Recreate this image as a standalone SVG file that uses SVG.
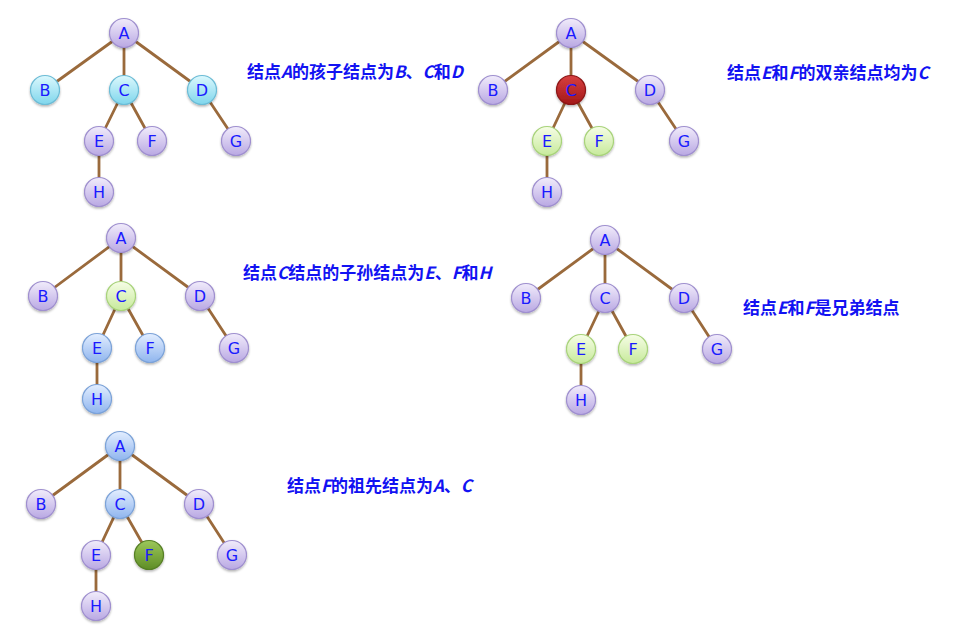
<svg xmlns="http://www.w3.org/2000/svg" width="958" height="644" viewBox="0 0 958 644">
<defs>
<linearGradient id="gP" x1="0" y1="0" x2="0" y2="1"><stop offset="0" stop-color="#f1ecfb"/><stop offset="1" stop-color="#b9a8e3"/></linearGradient>
<linearGradient id="gC" x1="0" y1="0" x2="0" y2="1"><stop offset="0" stop-color="#dcf8fd"/><stop offset="1" stop-color="#7fd6ec"/></linearGradient>
<linearGradient id="gL" x1="0" y1="0" x2="0" y2="1"><stop offset="0" stop-color="#f6fde6"/><stop offset="1" stop-color="#c7ea9b"/></linearGradient>
<linearGradient id="gB" x1="0" y1="0" x2="0" y2="1"><stop offset="0" stop-color="#e3eeff"/><stop offset="1" stop-color="#8fb5ee"/></linearGradient>
<linearGradient id="gR" x1="0" y1="0" x2="0" y2="1"><stop offset="0" stop-color="#d84040"/><stop offset="1" stop-color="#a21818"/></linearGradient>
<linearGradient id="gG" x1="0" y1="0" x2="0" y2="1"><stop offset="0" stop-color="#9cc75a"/><stop offset="1" stop-color="#5e8d26"/></linearGradient>
<filter id="sh" x="-30%" y="-30%" width="160%" height="170%"><feDropShadow dx="0" dy="1.5" stdDeviation="1.2" flood-color="#000" flood-opacity="0.3"/></filter>
</defs>
<style>
.e{stroke:#9a6a3c;stroke-width:2.8;fill:none;stroke-linecap:round}
circle{stroke-width:1.2;filter:url(#sh)}
.p{fill:url(#gP);stroke:#9f8fcf}
.c{fill:url(#gC);stroke:#6cbcd6}
.l{fill:url(#gL);stroke:#a8d37a}
.b{fill:url(#gB);stroke:#7ba2d8}
.r{fill:url(#gR);stroke:#8c1616}
.g{fill:url(#gG);stroke:#567f25}
.t{font-family:"DejaVu Sans","Liberation Sans",sans-serif;font-size:16px;fill:#1a1aff;text-anchor:middle}
.cap{font-family:"Noto Sans CJK SC","Liberation Sans",sans-serif;font-size:17px;font-weight:bold;fill:#1212f2}
.i{font-style:italic}
</style>
<g id="connectors">
<path class="e" d="M124 33L45 90M124 33L124 90M124 33L202 90M124 90L99 141M124 90L152 141M202 90L236 141M99 141L99 192"/>
<path class="e" d="M571 33L493 90M571 33L571 90M571 33L650 90M571 90L547 141M571 90L599 141M650 90L684 141M547 141L547 192"/>
<path class="e" d="M121 238L43 296M121 238L121 296M121 238L200 296M121 296L97 348M121 296L150 348M200 296L234 348M97 348L97 399"/>
<path class="e" d="M605 240L526 298M605 240L605 298M605 240L684 298M605 298L581 349M605 298L633 349M684 298L717 349M581 349L581 400"/>
<path class="e" d="M120 446L41 504M120 446L120 504M120 446L199 504M120 504L96 555M120 504L149 555M199 504L232 555M96 555L96 606"/>
</g>
<g id="t1-A"><circle class="p" cx="124" cy="33" r="14.5"/><text class="t" x="124" y="38.5">A</text></g>
<g id="t1-B"><circle class="c" cx="45" cy="90" r="14.5"/><text class="t" x="45" y="95.5">B</text></g>
<g id="t1-C"><circle class="c" cx="124" cy="90" r="14.5"/><text class="t" x="124" y="95.5">C</text></g>
<g id="t1-D"><circle class="c" cx="202" cy="90" r="14.5"/><text class="t" x="202" y="95.5">D</text></g>
<g id="t1-E"><circle class="p" cx="99" cy="141" r="14.5"/><text class="t" x="99" y="146.5">E</text></g>
<g id="t1-F"><circle class="p" cx="152" cy="141" r="14.5"/><text class="t" x="152" y="146.5">F</text></g>
<g id="t1-G"><circle class="p" cx="236" cy="141" r="14.5"/><text class="t" x="236" y="146.5">G</text></g>
<g id="t1-H"><circle class="p" cx="99" cy="192" r="14.5"/><text class="t" x="99" y="197.5">H</text></g>

<g id="t2-A"><circle class="p" cx="571" cy="33" r="14.5"/><text class="t" x="571" y="38.5">A</text></g>
<g id="t2-B"><circle class="p" cx="493" cy="90" r="14.5"/><text class="t" x="493" y="95.5">B</text></g>
<g id="t2-C"><circle class="r" cx="571" cy="90" r="14.5"/><text class="t" x="571" y="95.5">C</text></g>
<g id="t2-D"><circle class="p" cx="650" cy="90" r="14.5"/><text class="t" x="650" y="95.5">D</text></g>
<g id="t2-E"><circle class="l" cx="547" cy="141" r="14.5"/><text class="t" x="547" y="146.5">E</text></g>
<g id="t2-F"><circle class="l" cx="599" cy="141" r="14.5"/><text class="t" x="599" y="146.5">F</text></g>
<g id="t2-G"><circle class="p" cx="684" cy="141" r="14.5"/><text class="t" x="684" y="146.5">G</text></g>
<g id="t2-H"><circle class="p" cx="547" cy="192" r="14.5"/><text class="t" x="547" y="197.5">H</text></g>

<g id="t3-A"><circle class="p" cx="121" cy="238" r="14.5"/><text class="t" x="121" y="243.5">A</text></g>
<g id="t3-B"><circle class="p" cx="43" cy="296" r="14.5"/><text class="t" x="43" y="301.5">B</text></g>
<g id="t3-C"><circle class="l" cx="121" cy="296" r="14.5"/><text class="t" x="121" y="301.5">C</text></g>
<g id="t3-D"><circle class="p" cx="200" cy="296" r="14.5"/><text class="t" x="200" y="301.5">D</text></g>
<g id="t3-E"><circle class="b" cx="97" cy="348" r="14.5"/><text class="t" x="97" y="353.5">E</text></g>
<g id="t3-F"><circle class="b" cx="150" cy="348" r="14.5"/><text class="t" x="150" y="353.5">F</text></g>
<g id="t3-G"><circle class="p" cx="234" cy="348" r="14.5"/><text class="t" x="234" y="353.5">G</text></g>
<g id="t3-H"><circle class="b" cx="97" cy="399" r="14.5"/><text class="t" x="97" y="404.5">H</text></g>

<g id="t4-A"><circle class="p" cx="605" cy="240" r="14.5"/><text class="t" x="605" y="245.5">A</text></g>
<g id="t4-B"><circle class="p" cx="526" cy="298" r="14.5"/><text class="t" x="526" y="303.5">B</text></g>
<g id="t4-C"><circle class="p" cx="605" cy="298" r="14.5"/><text class="t" x="605" y="303.5">C</text></g>
<g id="t4-D"><circle class="p" cx="684" cy="298" r="14.5"/><text class="t" x="684" y="303.5">D</text></g>
<g id="t4-E"><circle class="l" cx="581" cy="349" r="14.5"/><text class="t" x="581" y="354.5">E</text></g>
<g id="t4-F"><circle class="l" cx="633" cy="349" r="14.5"/><text class="t" x="633" y="354.5">F</text></g>
<g id="t4-G"><circle class="p" cx="717" cy="349" r="14.5"/><text class="t" x="717" y="354.5">G</text></g>
<g id="t4-H"><circle class="p" cx="581" cy="400" r="14.5"/><text class="t" x="581" y="405.5">H</text></g>

<g id="t5-A"><circle class="b" cx="120" cy="446" r="14.5"/><text class="t" x="120" y="451.5">A</text></g>
<g id="t5-B"><circle class="p" cx="41" cy="504" r="14.5"/><text class="t" x="41" y="509.5">B</text></g>
<g id="t5-C"><circle class="b" cx="120" cy="504" r="14.5"/><text class="t" x="120" y="509.5">C</text></g>
<g id="t5-D"><circle class="p" cx="199" cy="504" r="14.5"/><text class="t" x="199" y="509.5">D</text></g>
<g id="t5-E"><circle class="p" cx="96" cy="555" r="14.5"/><text class="t" x="96" y="560.5">E</text></g>
<g id="t5-F"><circle class="g" cx="149" cy="555" r="14.5"/><text class="t" x="149" y="560.5">F</text></g>
<g id="t5-G"><circle class="p" cx="232" cy="555" r="14.5"/><text class="t" x="232" y="560.5">G</text></g>
<g id="t5-H"><circle class="p" cx="96" cy="606" r="14.5"/><text class="t" x="96" y="611.5">H</text></g>

<g id="captions">
<text class="cap" x="247" y="78">结点<tspan class="i">A</tspan>的孩子结点为<tspan class="i">B</tspan>、<tspan class="i">C</tspan>和<tspan class="i">D</tspan></text>
<text class="cap" x="727" y="79">结点<tspan class="i">E</tspan>和<tspan class="i">F</tspan>的双亲结点均为<tspan class="i">C</tspan></text>
<text class="cap" x="243" y="279">结点<tspan class="i">C</tspan>结点的子孙结点为<tspan class="i">E</tspan>、<tspan class="i">F</tspan>和<tspan class="i">H</tspan></text>
<text class="cap" x="743" y="314">结点<tspan class="i">E</tspan>和<tspan class="i">F</tspan>是兄弟结点</text>
<text class="cap" x="287" y="492">结点<tspan class="i">F</tspan>的祖先结点为<tspan class="i">A</tspan>、<tspan class="i">C</tspan></text>
</g>
</svg>
